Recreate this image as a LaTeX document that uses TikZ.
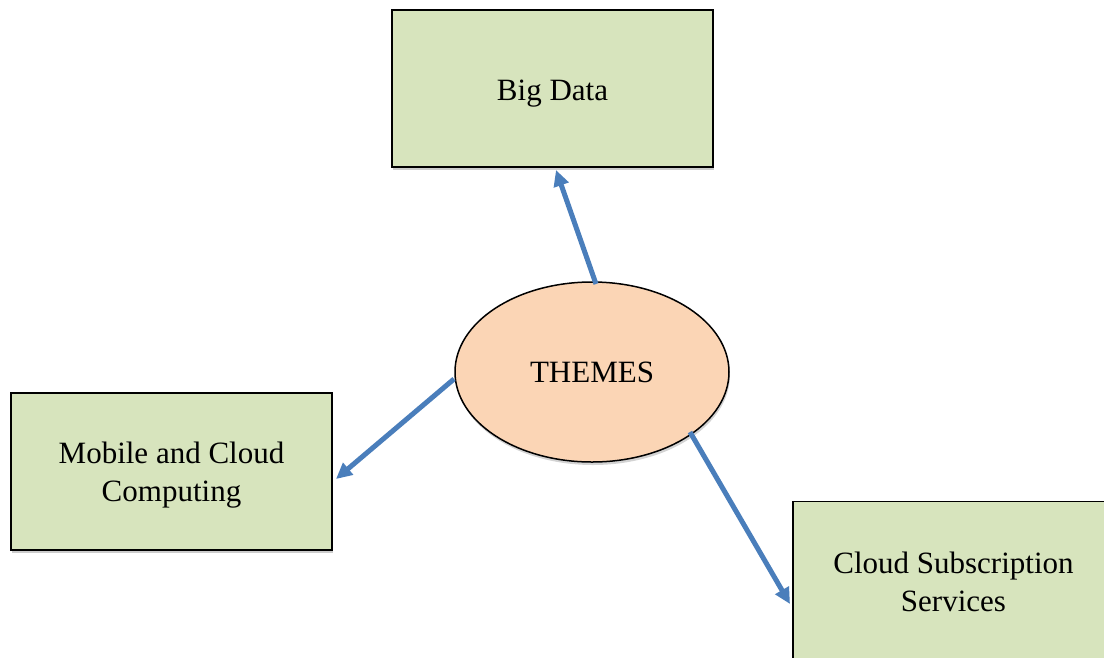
\documentclass[tikz,border=0pt]{standalone}
\usepackage{fontspec}
\setmainfont{Liberation Serif}
\usetikzlibrary{arrows.meta,shapes.geometric,shadows}
\definecolor{boxfill}{RGB}{215,228,189}
\definecolor{ellfill}{RGB}{251,213,181}
\definecolor{arrcol}{RGB}{74,126,187}
\tikzset{
  themebox/.style={draw=black, line width=1.5pt, fill=boxfill, minimum width=321pt, minimum height=157pt,
    inner sep=0pt,
    drop shadow={shadow xshift=1pt, shadow yshift=-3pt, opacity=0.4, fill=gray}},
  labtxt/.style={align=center, font=\fontsize{31}{38}\selectfont, inner sep=0pt},
  centre/.style={draw=black, line width=1.5pt, fill=ellfill, ellipse, minimum width=274pt, minimum height=180pt,
    font=\fontsize{31}{38}\selectfont, inner sep=0pt,
    drop shadow={shadow xshift=1pt, shadow yshift=-3pt, opacity=0.35, fill=gray}},
  arr/.style={draw=arrcol, line width=5pt, -{Triangle[length=16pt,width=15pt]}}
}
\begin{document}
\begin{tikzpicture}[x=1pt,y=-1pt]
\useasboundingbox (0,0) rectangle (1104,657);
\clip (0,0) rectangle (1104,657);
\node[themebox, label={[labtxt,yshift=-5pt]center:Big Data}] (bigdata) at (552.5,88.5) {};
\node[themebox, label={[labtxt,yshift=-4pt]center:Mobile and Cloud\\Computing}] (mobile) at (171.5,471.5) {};
\node[themebox, label={[labtxt,yshift=-2pt]center:Cloud Subscription\\Services}] (cloud) at (953.5,580) {};
\node[centre] (themes) at (592,372) {THEMES};
\coordinate (a1s) at (596,284);
\coordinate (a1e) at (556,170);
\coordinate (a2s) at (454,379);
\coordinate (a2e) at (336,479);
\coordinate (a3s) at (690,432);
\coordinate (a3e) at (790,604);
\draw[arr] (a1s) -- (a1e);
\draw[arr] (a2s) -- (a2e);
\draw[arr] (a3s) -- (a3e);
\end{tikzpicture}
\end{document}
